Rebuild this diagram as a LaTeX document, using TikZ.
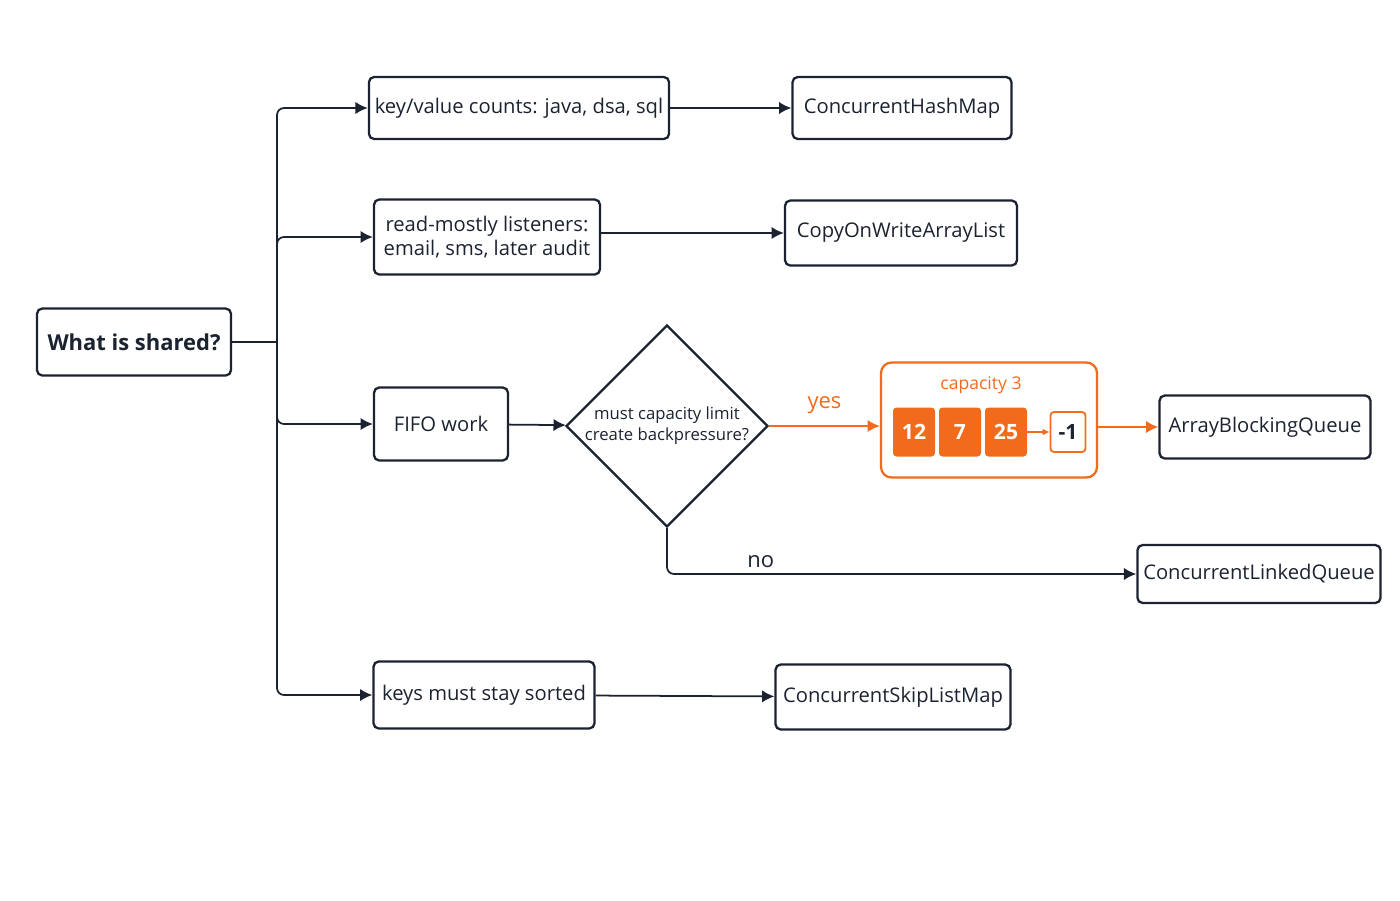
\documentclass[tikz,border=0pt]{standalone}
\usepackage{fontspec}
\setmainfont{Open Sans}
\usetikzlibrary{shapes.geometric,arrows.meta}
\definecolor{ink}{HTML}{1B2230}
\definecolor{accent}{HTML}{F26B1D}
\begin{document}
\begin{tikzpicture}[x=0.02cm,y=-0.02cm]
	\tikzset{boite/.style={draw=ink, line width=1.3pt, rounded corners=3pt, align=center, font=\fontsize{11.5}{14}\selectfont, text=ink},
		fleche/.style={-{Latex[length=7pt,width=7pt]}, draw=ink, line width=1pt},
		cellule/.style={fill=accent, rounded corners=2pt, text=white, font=\fontsize{12}{14}\selectfont\bfseries, minimum width=42*0.02cm, minimum height=49*0.02cm}};

	\useasboundingbox (0,0) rectangle (1400,900);

	\node[boite, minimum width=194*0.02cm, minimum height=67*0.02cm, font=\fontsize{12.5}{15}\selectfont\bfseries] (shared) at (134,342) {What is shared?};
	\node[boite, minimum width=288*0.02cm, minimum height=62*0.02cm] (kv) at (519,108) {key/value counts: java, dsa, sql};
	\node[boite, minimum width=219*0.02cm, minimum height=62*0.02cm] (chm) at (902,108) {ConcurrentHashMap};
	\node[boite, minimum width=226*0.02cm, minimum height=75*0.02cm] (rm) at (487,237) {read-mostly listeners:\\email, sms, later audit};
	\node[boite, minimum width=232*0.02cm, minimum height=65*0.02cm] (cow) at (901,233) {CopyOnWriteArrayList};
	\node[boite, minimum width=134*0.02cm, minimum height=73*0.02cm] (fifo) at (441,424) {FIFO work};
	\node[diamond, draw=ink, line width=1.3pt, align=center, minimum width=200*0.02cm, minimum height=177*0.02cm, inner sep=0pt, font=\fontsize{9.5}{12}\selectfont, text=ink] (cap) at (667,426) {must capacity limit\\create backpressure?};
	\node[boite, draw=accent, minimum width=216*0.02cm, minimum height=115*0.02cm, rounded corners=6pt] (file) at (989,420) {};
	\node[text=accent, font=\fontsize{10}{12}\selectfont] (titre) at (981,385) {capacity 3};
	\node[cellule] (c1) at (914,432) {12};
	\node[cellule] (c2) at (960,432) {7};
	\node[cellule] (c3) at (1006,432) {25};
	\node[draw=accent, line width=1pt, rounded corners=2pt, fill=white, text=ink, font=\fontsize{12}{14}\selectfont\bfseries, minimum width=35*0.02cm, minimum height=40*0.02cm] (c4) at (1068,432) {-1};
	\node[boite, minimum width=211*0.02cm, minimum height=63*0.02cm] (abq) at (1265,427) {ArrayBlockingQueue};
	\node[boite, minimum width=232*0.02cm, minimum height=58*0.02cm] (clq) at (1259,574) {ConcurrentLinkedQueue};
	\node[boite, minimum width=221*0.02cm, minimum height=67*0.02cm] (sorted) at (484,695) {keys must stay sorted};
	\node[boite, minimum width=235*0.02cm, minimum height=65*0.02cm] (skip) at (893,697) {ConcurrentSkipListMap};

	\coordinate (tronc) at (277,342);

	% branches
	\draw[draw=ink, line width=1pt] (shared) -- (tronc);
	\draw[fleche, rounded corners=4pt] (tronc) |- (kv);
	\draw[fleche, rounded corners=4pt] (tronc) |- (rm);
	\draw[fleche, rounded corners=4pt] (tronc) |- (fifo);
	\draw[fleche, rounded corners=4pt] (tronc) |- (sorted);

	\draw[fleche] (kv) -- (chm);
	\draw[fleche] (rm.east |- cow) -- (cow);
	\draw[fleche] (fifo) -- (cap);
	\draw[fleche] (sorted) -- (skip);

	\draw[fleche, draw=accent] (cap.east) -- node[above=3pt, text=accent, font=\fontsize{12.5}{15}\selectfont] {yes} (file.west |- cap.east);
	\draw[-{Latex[length=4pt,width=4pt]}, draw=accent, line width=1pt] (c3) -- (c4);
	\draw[fleche, draw=accent] (file.east |- abq) -- (abq);
	\draw[fleche, rounded corners=4pt] (cap.south) |- node[pos=0.6, above, text=ink, font=\fontsize{12.5}{15}\selectfont] {no} (clq);
\end{tikzpicture}
\end{document}
